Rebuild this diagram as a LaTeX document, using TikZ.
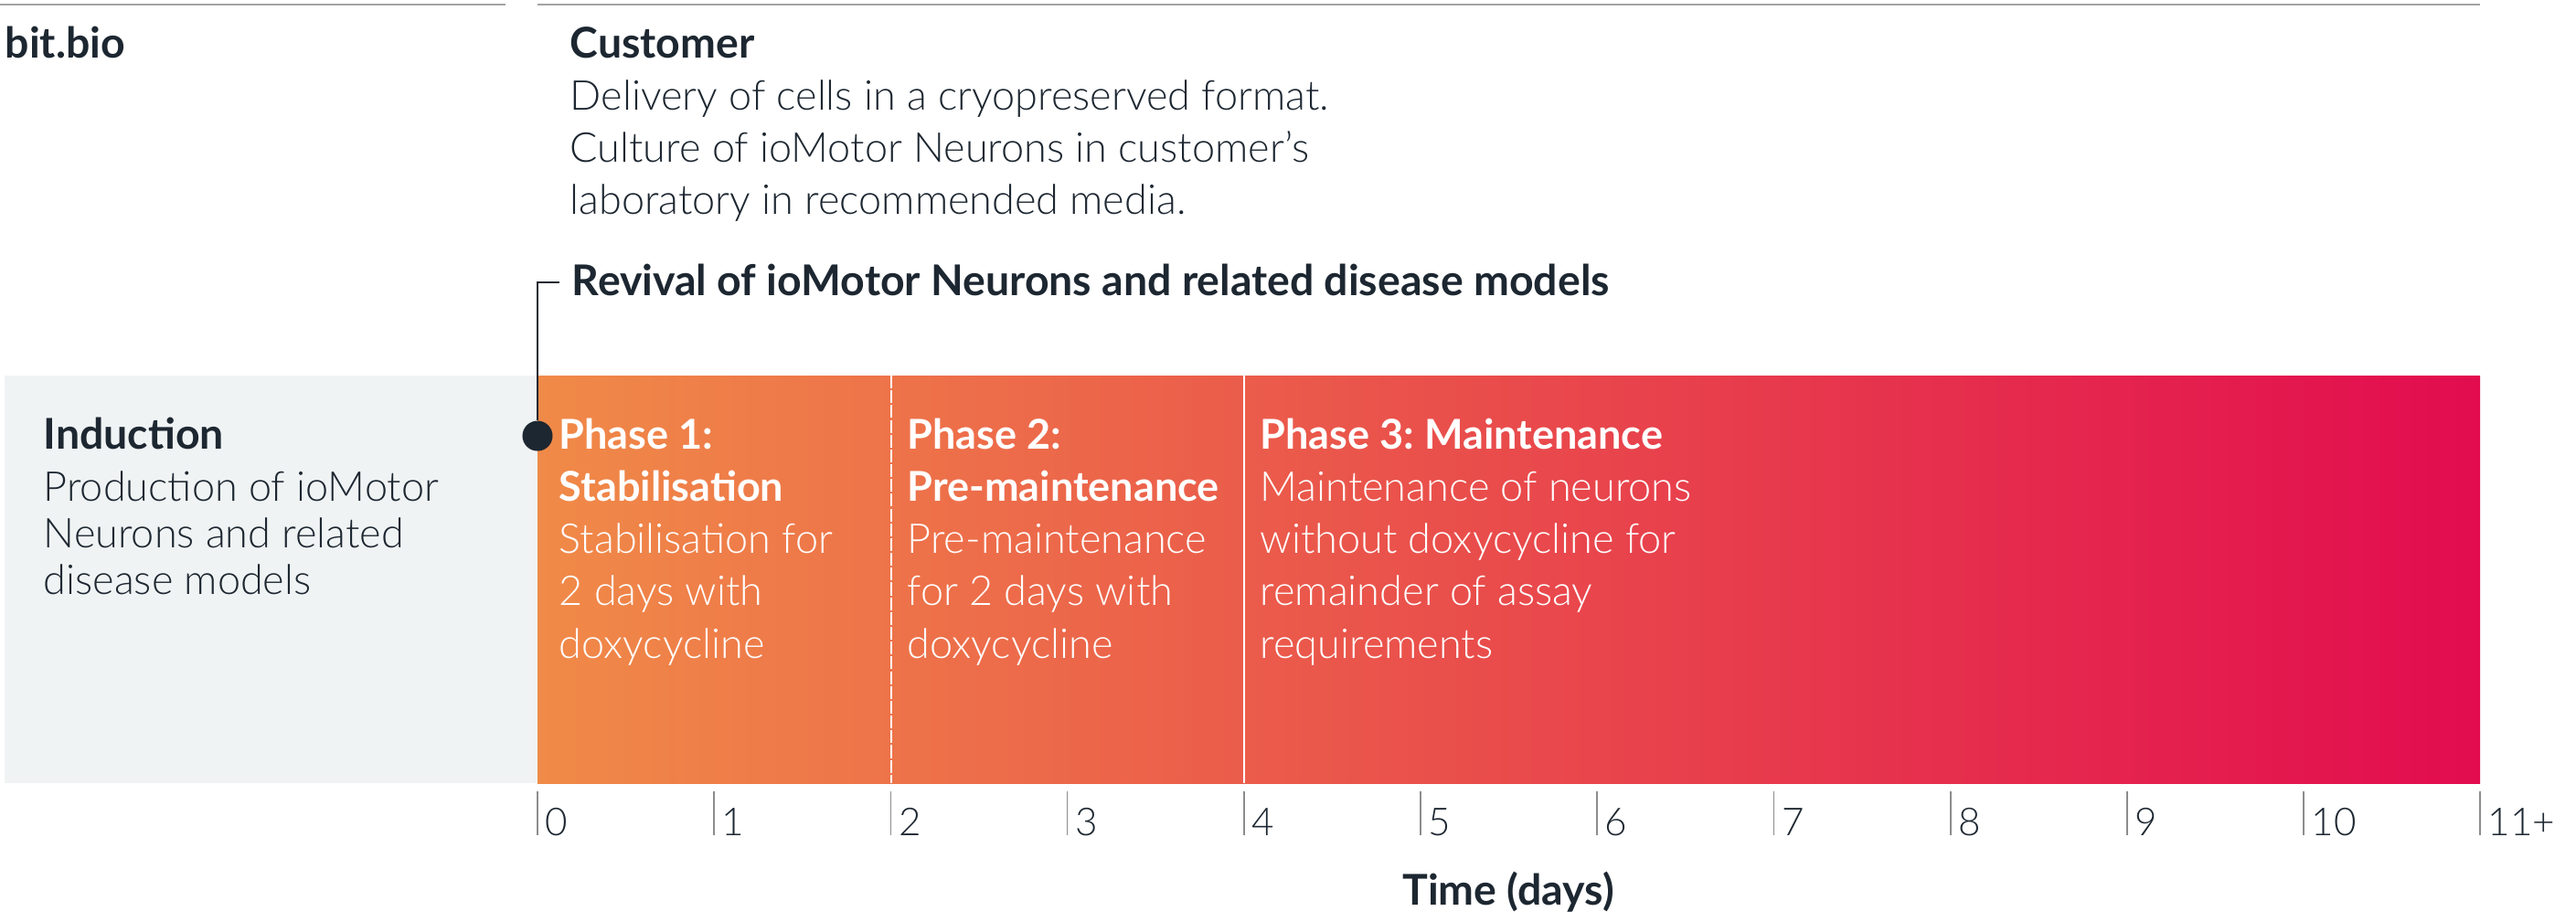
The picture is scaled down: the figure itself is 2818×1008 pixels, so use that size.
\documentclass[tikz,border=0pt]{standalone}
\usepackage{fontspec}
\setmainfont{Lato}[UprightFont=* Light, BoldFont=* Bold]
\frenchspacing
\definecolor{ink}{HTML}{1D2731}
\definecolor{rulegray}{HTML}{A3A3A3}
\definecolor{inductgray}{HTML}{F0F3F4}
\definecolor{phaseorange}{HTML}{F08A48}
\definecolor{phasered}{HTML}{E20C4F}
\definecolor{tickgray}{HTML}{8C8C8C}

\begin{document}
\begin{tikzpicture}[%
    x=0.01cm, y=-0.01cm,
    txt/.style={anchor=base west, inner sep=0pt, text=ink, font=\fontsize{12.8}{16.3}\selectfont},
    head/.style={txt, font=\fontsize{13.2}{16.3}\selectfont\bfseries},
    phasetxt/.style={txt, text=white},
    ticklab/.style={txt, font=\fontsize{12}{14}\selectfont},
    startdot/.style={circle, fill=ink, inner sep=0pt, minimum size=0.33cm},
    divider/.style={white, line width=0.5pt}]
  \useasboundingbox (0,0) rectangle (2818,1008);
  \draw[rulegray, line width=0.6pt] (0,5) -- (553,5) (588,5) -- (2713,5);
  \fill[inductgray] (5,411) rectangle (588,857);
  \shade[left color=phaseorange, right color=phasered] (588,411) rectangle (2713,857);
  \draw[divider, dash pattern=on 4pt off 0.6pt] (975,411) -- (975,857);
  \draw[divider] (1361,411) -- (1361,857);

  \node[head] (bitbio) at (5,63) {bit.bio};
  \node[head] (customer) at (623,63) {Customer};
  \node[txt] (delivery) at (623,120) {\begin{tabular}[t]{@{}l@{}}
      Delivery of cells in a cryopreserved format.\\
      Culture of ioMotor Neurons in customer’s\\
      laboratory in recommended media.\end{tabular}};

  \node[head] (revival) at (625,323) {Revival of ioMotor Neurons and related disease models};
  \node[startdot] (revdot) at (588,477) {};
  \coordinate (revtip) at (612,309);
  \draw[ink, line width=0.6pt] (revdot.north) |- (revtip);

  \node[head] (induction) at (47,491) {Induction};
  \node[txt, font=\fontsize{12.8}{14.5}\selectfont] (inductbody) at (47,548) {\begin{tabular}[t]{@{}l@{}}
      Production of ioMotor\\
      Neurons and related\\
      disease models\end{tabular}};

  \node[phasetxt] (phaseone) at (611,491) {\begin{tabular}[t]{@{}l@{}}
      \textbf{Phase 1:}\\
      \textbf{Stabilisation}\\
      Stabilisation for\\
      2 days with\\
      doxycycline\end{tabular}};
  \node[phasetxt] (phasetwo) at (992,491) {\begin{tabular}[t]{@{}l@{}}
      \textbf{Phase 2:}\\
      \textbf{Pre-maintenance}\\
      Pre-maintenance\\
      for 2 days with\\
      doxycycline\end{tabular}};
  \node[phasetxt] (phasethree) at (1378,491) {\begin{tabular}[t]{@{}l@{}}
      \textbf{Phase 3: Maintenance}\\
      Maintenance of neurons\\
      without doxycycline for\\
      remainder of assay\\
      requirements\end{tabular}};

  \foreach \k/\lab in {0/0,1/1,2/2,3/3,4/4,5/5,6/6,7/7,8/8,9/9,10/10,11/11+} {
    \draw[tickgray, line width=0.5pt] (588+193.2*\k,866) -- (588+193.2*\k,914);
    \node[ticklab] (tick\k) at (596+193.2*\k,914) {\lab};
  }
  \node[head, anchor=base] (timeaxis) at (1650,990) {Time (days)};
\end{tikzpicture}
\end{document}
